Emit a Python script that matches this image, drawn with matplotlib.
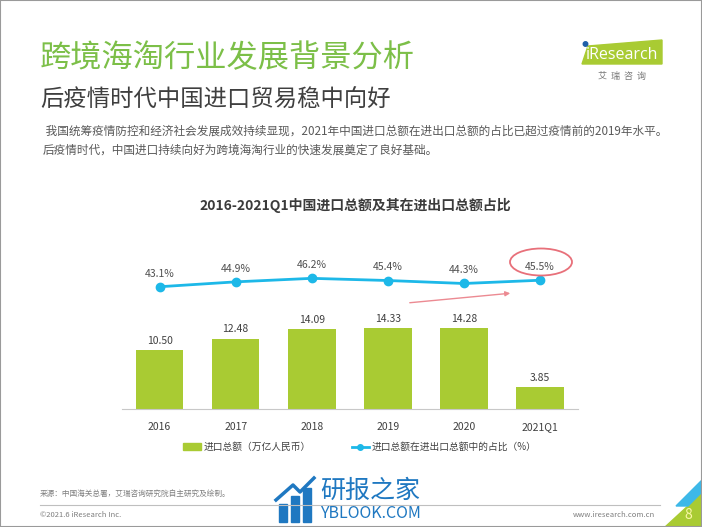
import matplotlib
matplotlib.use('Agg')
import matplotlib.pyplot as plt
from matplotlib.patches import Patch, Polygon, Ellipse, Rectangle, FancyArrowPatch
from matplotlib.lines import Line2D

plt.rcParams['font.family'] = ['Noto Sans CJK SC', 'DejaVu Sans']

# data
years = ['2016', '2017', '2018', '2019', '2020', '2021Q1']
imports = [10.50, 12.48, 14.09, 14.33, 14.28, 3.85]      # 万亿人民币
share = [43.1, 44.9, 46.2, 45.4, 44.3, 45.5]            # %

bar_color = '#a9cb33'
line_color = '#1db8e8'
green = '#7cbf48'

W, H = 702, 527
def fx(px):
    return px / W
def fy(py):
    return 1 - py / H

fig = plt.figure(figsize=(W / 100, H / 100), dpi=100)

# header
fig.text(fx(40), fy(58), '跨境海淘行业发展背景分析', fontsize=22.5, color=green, va='center')
fig.text(fx(40), fy(100), '后疫情时代中国进口贸易稳中向好', fontsize=16.8, color='#3f3f3f', va='center')
fig.text(fx(43), fy(131), ' 我国统筹疫情防控和经济社会发展成效持续显现，2021年中国进口总额在进出口总额的占比已超过疫情前的2019年水平。',
         fontsize=8.4, color='#595959', va='center')
fig.text(fx(43), fy(150), '后疫情时代，中国进口持续向好为跨境海淘行业的快速发展奠定了良好基础。',
         fontsize=8.4, color='#595959', va='center')

# logo
fig.add_artist(Polygon([(fx(582), fy(64)), (fx(662), fy(64)), (fx(662), fy(40)), (fx(588), fy(46))],
                       closed=True, color='#a9cb33', transform=fig.transFigure))
fig.text(fx(622), fy(55), 'iResearch', fontsize=11.5, color='white', ha='center', va='center',
         family=['Open Sans', 'DejaVu Sans'])
fig.add_artist(Ellipse((fx(585.5), fy(44)), 4.5 / W, 4.5 / H, color='#1f5fa8', transform=fig.transFigure))
fig.text(fx(622), fy(76), '艾  瑞  咨  询', fontsize=6.5, color='#777777', ha='center', va='center')

# chart title
fig.text(fx(355), fy(205), '2016-2021Q1中国进口总额及其在进出口总额占比', fontsize=10,
         fontweight='bold', color='#3b3b3b', ha='center', va='center')

ax = fig.add_axes([fx(121.5), fy(409), 456.6 / W, 209 / H])
x = range(len(years))
ax.bar(x, imports, width=0.625, color=bar_color, zorder=2)
ax.set_xlim(-0.5, 5.5)
ax.set_ylim(0, 37)
ax.set_xticks(list(x))
ax.set_xticklabels(years, fontsize=7.5, color='#404040')
ax.set_facecolor('none')
for i, v in enumerate(imports):
    ax.annotate(f'{v:.2f}', (i, v), xytext=(0, 6.5), textcoords='offset points',
                ha='center', va='center', fontsize=7.5, color='#404040')

ax2 = ax.twinx()
ax2.plot(x, share, color=line_color, lw=2, marker='o', ms=6, zorder=3)
ax2.set_ylim(-2, 75.1)
for i, v in enumerate(share):
    ax2.annotate(f'{v:.1f}%', (i, v), xytext=(0, 9.4), textcoords='offset points',
                 ha='center', va='center', fontsize=7.5, color='#505050')

# twinx re-enables the left ticks, so hide them afterwards
for s in ['top', 'left', 'right']:
    ax.spines[s].set_visible(False)
ax.spines['bottom'].set_color('#c8c8c8')
ax.tick_params(left=False, labelleft=False, bottom=False, pad=6)
for s in ax2.spines.values():
    s.set_visible(False)
ax2.tick_params(left=False, right=False, labelleft=False, labelright=False)
ax.set_yticks([])
ax2.set_yticks([])

# hand-drawn highlight
fig.add_artist(Ellipse((fx(541), fy(262)), 62 / W, 27 / H, fill=False, ec='#e8707a', lw=1.3,
                       transform=fig.transFigure))
fig.add_artist(FancyArrowPatch((fx(407), fy(303)), (fx(513), fy(293)), transform=fig.transFigure,
                               arrowstyle='-|>', mutation_scale=7, color='#ec8a92', lw=1))

# legend
handles = [Patch(color=bar_color),
           Line2D([0], [0], color=line_color, lw=2, marker='o', ms=4)]
labels = ['进口总额（万亿人民币）', '进口总额在进出口总额中的占比（%）']
fig.legend(handles, labels, loc='center', bbox_to_anchor=(fx(360), fy(447)), ncol=2, frameon=False,
           fontsize=7, handlelength=1.8, handleheight=0.6, handletextpad=0.3, columnspacing=4.2,
           labelcolor='#404040')

# footer
fig.text(fx(40), fy(494), '来源：中国海关总署，艾瑞咨询研究院自主研究及绘制。', fontsize=5.5, color='#7f7f7f', va='center')
fig.add_artist(Line2D([fx(40), fx(660)], [fy(505), fy(505)], color='#bfbfbf', lw=0.8,
                      transform=fig.transFigure))
fig.text(fx(40), fy(515), '©2021.6 iResearch Inc.', fontsize=5.5, color='#7f7f7f', va='center')
fig.text(fx(655), fy(515), 'www.iresearch.com.cn', fontsize=5.5, color='#7f7f7f', va='center', ha='right')
fig.add_artist(Polygon([(fx(664), fy(527)), (fx(702), fy(527)), (fx(702), fy(492))], closed=True,
                       color='#a9cb33', transform=fig.transFigure))
fig.add_artist(Polygon([(fx(676), fy(506)), (fx(702), fy(480)), (fx(702), fy(492)), (fx(688), fy(506))],
                       closed=True, color='#3db8e8', transform=fig.transFigure))
fig.text(fx(688), fy(515), '8', fontsize=10, color='#fbf7a8', va='center', ha='center')

# watermark
for bx, bh in [(279, 18), (291, 26), (303, 34)]:
    fig.add_artist(Rectangle((fx(bx), fy(522)), 8 / W, bh / H, color='#1f78c1',
                             transform=fig.transFigure))
fig.add_artist(Line2D([fx(276), fx(293), fx(300), fx(314)], [fy(500), fy(485), fy(492), fy(478)],
                      color='#1f78c1', lw=2.5, transform=fig.transFigure))
fig.text(fx(320), fy(491), '研报之家', fontsize=18, color='#1f78c1', va='center')
fig.text(fx(320), fy(513), 'YBLOOK.COM', fontsize=11.5, color='#1f78c1', va='center')

# slide border
fig.add_artist(Rectangle((0, 0), 1, 1, fill=False, ec='#9a9a9a', lw=1.5, transform=fig.transFigure))

fig.savefig('out.png', dpi=100)
